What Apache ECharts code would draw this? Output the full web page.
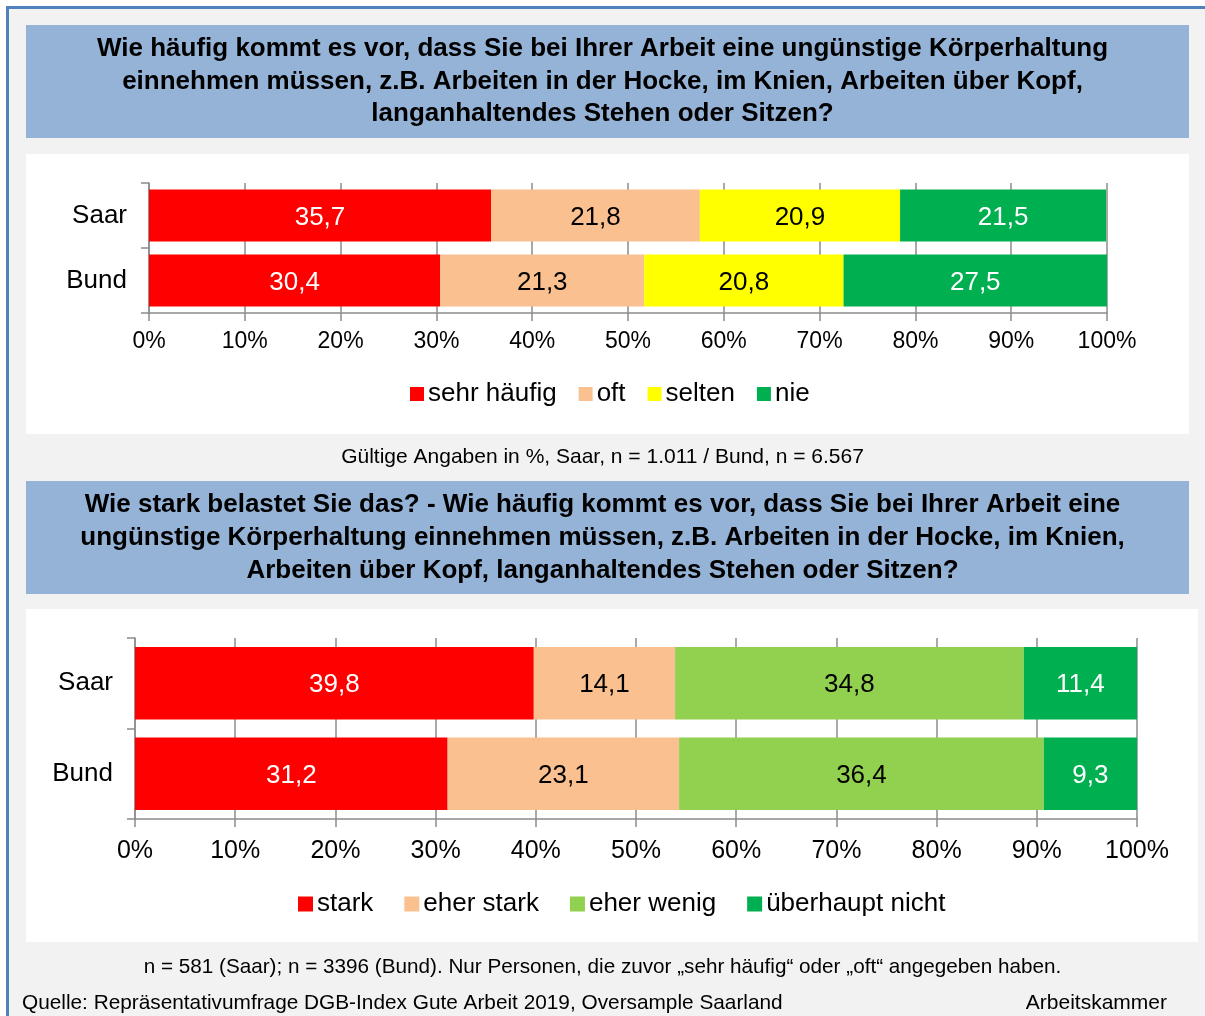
<!DOCTYPE html>
<html>
<head>
<meta charset="utf-8">
<script src="https://cdn.jsdelivr.net/npm/echarts@6/dist/echarts.min.js"></script>
<style>
html, body { margin: 0; padding: 0; background: #fff; }
#main { width: 1205px; height: 1016px; }
</style>
</head>
<body>
<div id="main"></div>
<script>
// data
const categories = ['Saar', 'Bund'];
const tickLabels = ['0%', '10%', '20%', '30%', '40%', '50%', '60%', '70%', '80%', '90%', '100%'];

const names1 = ['sehr häufig', 'oft', 'selten', 'nie'];
const sehrHaeufig = [35.7, 30.4];
const oft = [21.8, 21.3];
const selten = [20.9, 20.8];
const nie = [21.5, 27.5];

const names2 = ['stark', 'eher stark', 'eher wenig', 'überhaupt nicht'];
const stark = [39.8, 31.2];
const eherStark = [14.1, 23.1];
const eherWenig = [34.8, 36.4];
const ueberhauptNicht = [11.4, 9.3];

const title1 = 'Wie häufig kommt es vor, dass Sie bei Ihrer Arbeit eine ungünstige Körperhaltung\neinnehmen müssen, z.B. Arbeiten in der Hocke, im Knien, Arbeiten über Kopf,\nlanganhaltendes Stehen oder Sitzen?';
const title2 = 'Wie stark belastet Sie das? - Wie häufig kommt es vor, dass Sie bei Ihrer Arbeit eine\nungünstige Körperhaltung einnehmen müssen, z.B. Arbeiten in der Hocke, im Knien,\nArbeiten über Kopf, langanhaltendes Stehen oder Sitzen?';
const note1 = 'Gültige Angaben in %, Saar, n = 1.011 / Bund, n = 6.567';
const note2 = 'n = 581 (Saar); n = 3396 (Bund). Nur Personen, die zuvor „sehr häufig“ oder „oft“ angegeben haben.';
const source = 'Quelle: Repräsentativumfrage DGB-Index Gute Arbeit 2019, Oversample Saarland';

const FONT = '"Liberation Sans", Arial, sans-serif';
const GRID_C = '#8c8c8c';

let myChart = echarts.init(document.getElementById('main'));

function fmt(p) {
  return String(p.value).replace('.', ',');
}

function bar(name, data, color, labelColor, idx) {
  return {
    name: name,
    type: 'bar',
    stack: 's' + idx,
    xAxisIndex: idx,
    yAxisIndex: idx,
    data: data,
    barCategoryGap: '20%',
    itemStyle: { color: color },
    label: {
      show: true,
      position: 'inside',
      offset: [0, 2],
      formatter: fmt,
      color: labelColor,
      fontSize: 26,
      fontFamily: FONT
    },
    emphasis: { disabled: true }
  };
}

function xAx(idx, size, margin) {
  return {
    type: 'value',
    gridIndex: idx,
    min: 0,
    max: 100,
    interval: 10,
    axisLine: { show: true, lineStyle: { color: GRID_C, width: 1.5 } },
    axisTick: { show: true, length: 8, lineStyle: { color: GRID_C, width: 1.5 } },
    splitLine: { show: true, lineStyle: { color: GRID_C, width: 1.5 } },
    axisLabel: {
      formatter: function (v) { return tickLabels[Math.round(v / 10)]; },
      fontSize: size,
      color: '#000',
      fontFamily: FONT,
      margin: margin
    }
  };
}

function yAx(idx, size) {
  return {
    type: 'category',
    gridIndex: idx,
    data: categories,
    inverse: true,
    axisLine: { show: true, lineStyle: { color: GRID_C, width: 1.5 } },
    axisTick: { show: true, length: 8, lineStyle: { color: GRID_C, width: 1.5 } },
    axisLabel: { fontSize: size, color: '#000', fontFamily: FONT, margin: 22 }
  };
}

let option = {
  animation: false,
  backgroundColor: '#fff',
  graphic: [
    // frame and background
    { type: 'rect', z: -10, shape: { x: 6, y: 6, width: 1199, height: 1010 }, style: { fill: '#4f81bd' } },
    { type: 'rect', z: -9, shape: { x: 9, y: 9, width: 1196, height: 1007 }, style: { fill: '#f2f2f2' } },
    { type: 'rect', z: -8, shape: { x: 26, y: 25, width: 1163, height: 113 }, style: { fill: '#95b3d7' } },
    { type: 'rect', z: -8, shape: { x: 26, y: 154, width: 1163, height: 280 }, style: { fill: '#fff' } },
    { type: 'rect', z: -8, shape: { x: 26, y: 481, width: 1163, height: 113 }, style: { fill: '#95b3d7' } },
    { type: 'rect', z: -8, shape: { x: 26, y: 609, width: 1172, height: 333 }, style: { fill: '#fff' } },
    {
      type: 'text', left: 'center', top: 33,
      style: { text: title1, font: 'bold 26px ' + FONT, fill: '#000', textAlign: 'center', lineHeight: 32.5 }
    },
    {
      type: 'text', left: 'center', top: 488,
      style: { text: title2, font: 'bold 26px ' + FONT, fill: '#000', textAlign: 'center', lineHeight: 33 }
    },
    {
      type: 'text', left: 'center', top: 447,
      style: { text: note1, font: '21px ' + FONT, fill: '#000' }
    },
    {
      type: 'text', left: 'center', top: 957,
      style: { text: note2, font: '20.7px ' + FONT, fill: '#000' }
    },
    {
      type: 'text', left: 22, top: 993,
      style: { text: source, font: '20.8px ' + FONT, fill: '#000' }
    },
    {
      type: 'text', right: 38, top: 993,
      style: { text: 'Arbeitskammer', font: '21px ' + FONT, fill: '#000' }
    }
  ],
  legend: [
    {
      data: names1,
      left: 405,
      top: 376,
      icon: 'rect',
      itemWidth: 14,
      itemHeight: 14,
      itemGap: 22,
      textStyle: { fontSize: 26, color: '#000', fontFamily: FONT, padding: [0, 0, 0, -1] },
      selectedMode: false
    },
    {
      data: names2,
      left: 293,
      top: 886,
      icon: 'rect',
      itemWidth: 15,
      itemHeight: 15,
      itemGap: 31,
      textStyle: { fontSize: 26, color: '#000', fontFamily: FONT, padding: [0, 0, 0, -1] },
      selectedMode: false
    }
  ],
  grid: [
    { left: 149, right: 98, top: 183, height: 130 },
    { left: 135, right: 68, top: 638, height: 181 }
  ],
  xAxis: [xAx(0, 23, 17), xAx(1, 25, 20)],
  yAxis: [yAx(0, 26), yAx(1, 26)],
  series: [
    bar(names1[0], sehrHaeufig, '#ff0000', '#fff', 0),
    bar(names1[1], oft, '#fac090', '#000', 0),
    bar(names1[2], selten, '#ffff00', '#000', 0),
    bar(names1[3], nie, '#00b050', '#fff', 0),
    bar(names2[0], stark, '#ff0000', '#fff', 1),
    bar(names2[1], eherStark, '#fac090', '#000', 1),
    bar(names2[2], eherWenig, '#92d050', '#000', 1),
    bar(names2[3], ueberhauptNicht, '#00b050', '#fff', 1)
  ]
};

option && myChart.setOption(option);
</script>
</body>
</html>
